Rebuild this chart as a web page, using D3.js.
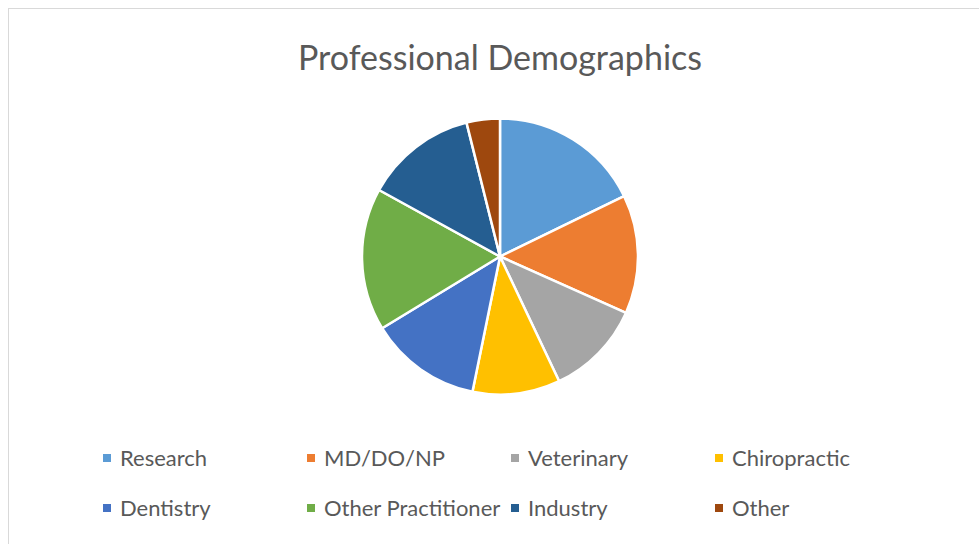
<!DOCTYPE html>
<html>
<head>
<meta charset="utf-8">
<script src="https://cdn.jsdelivr.net/npm/d3@7"></script>
<style>
  body { margin: 0; background: #fff; }
  svg { display: block; }
  text { font-family: Lato, "Open Sans", sans-serif; fill: #595959; }
</style>
</head>
<body>
<svg></svg>
<script>
// chart data
let categories = ['Research', 'MD/DO/NP', 'Veterinary', 'Chiropractic', 'Dentistry', 'Other Practitioner', 'Industry', 'Other']
let shares = [17.8, 13.9, 11.25, 10.25, 13.1, 16.7, 13.1, 3.9]
let colors = ['#5B9BD5', '#ED7D31', '#A5A5A5', '#FFC000', '#4472C4', '#70AD47', '#255E91', '#9E480E']
let title = 'Professional Demographics'

let width = 979
let height = 544
let cx = 500
let cy = 256.5
let radius = 138

let svg = d3.select('svg')
    .attr('width', width)
    .attr('height', height)

// chart area border
svg.append('rect')
    .attr('x', 8.5)
    .attr('y', 8.5)
    .attr('width', width)
    .attr('height', height)
    .attr('fill', 'none')
    .attr('stroke', '#d9d9d9')

svg.append('text')
    .attr('x', cx)
    .attr('y', 70)
    .attr('text-anchor', 'middle')
    .style('font-size', '34px')
    .text(title)

let values = categories.map((c, i) => ({ name: c, value: shares[i], color: colors[i] }))

let pie = d3.pie()
    .value(d => d.value)
    .sort(null)

let arc = d3.arc()
    .innerRadius(0)
    .outerRadius(radius)

svg.append('g')
    .attr('transform', 'translate(' + cx + ',' + cy + ')')
    .selectAll('path')
    .data(pie(values))
    .enter()
    .append('path')
    .attr('d', arc)
    .attr('fill', d => d.data.color)
    .attr('stroke', '#fff')
    .attr('stroke-width', 2.5)
    .attr('stroke-linejoin', 'round')

// legend: 4 columns, 2 rows
let legendX = d3.scaleBand().domain([0, 1, 2, 3]).range([103, 919])
let legendY = d3.scaleOrdinal().domain([0, 1]).range([458, 508])

let items = svg.append('g')
    .selectAll('g')
    .data(values)
    .enter()
    .append('g')
    .attr('transform', (d, i) => 'translate(' + legendX(i % 4) + ',' + legendY(Math.floor(i / 4)) + ')')

items.append('rect')
    .attr('x', 0)
    .attr('y', -4)
    .attr('width', 8)
    .attr('height', 8)
    .attr('fill', d => d.color)

items.append('text')
    .attr('x', 17)
    .attr('y', 7.5)
    .style('font-size', '22px')
    .text(d => d.name)
</script>
</body>
</html>
